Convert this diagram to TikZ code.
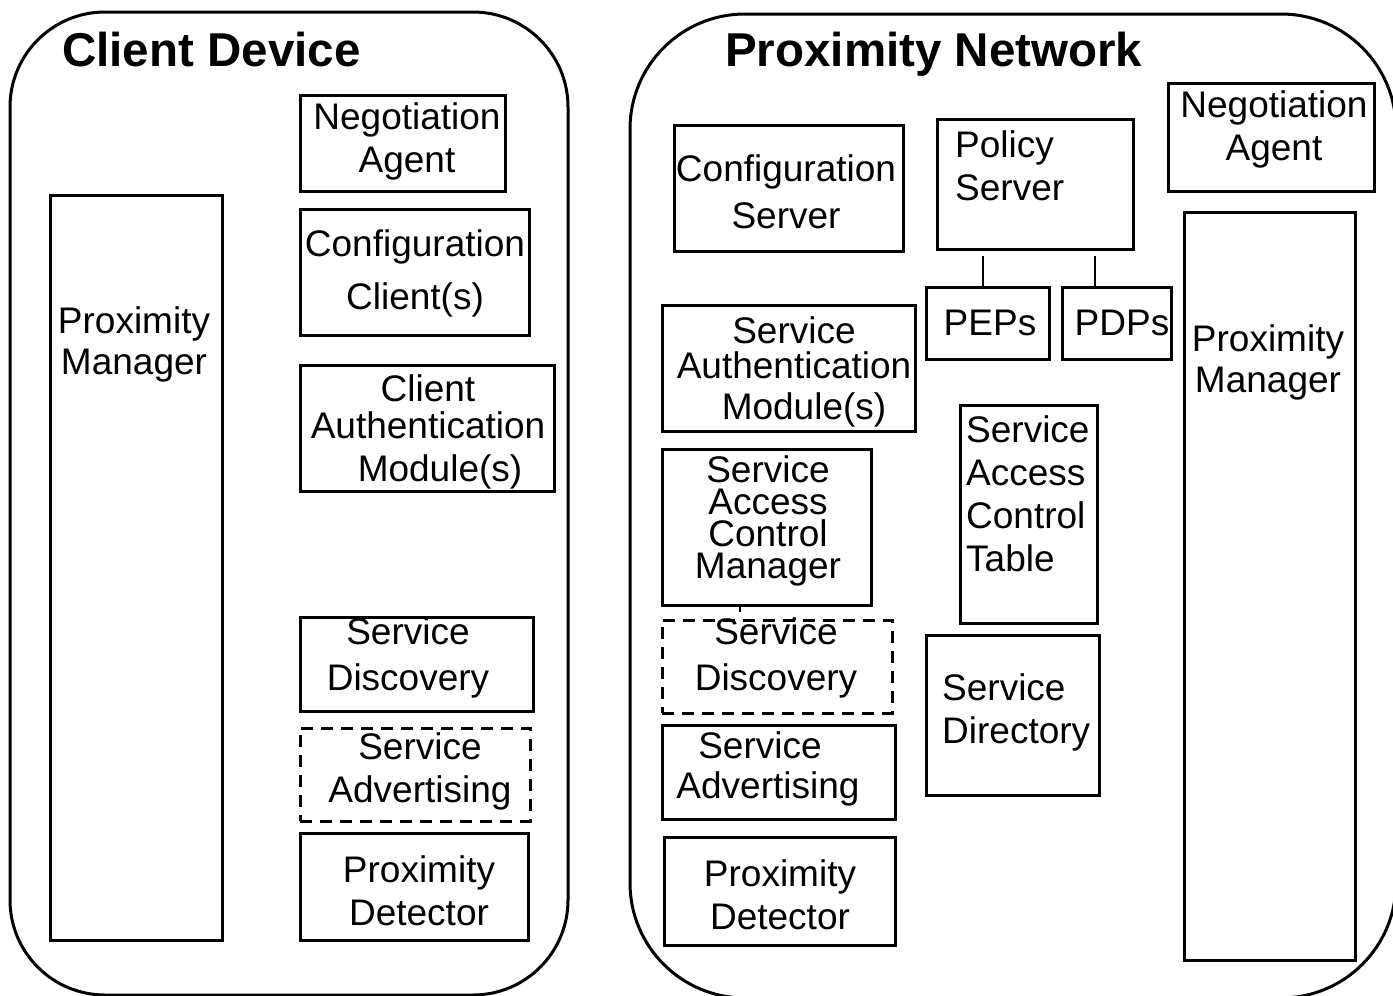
\documentclass[tikz,border=0pt]{standalone}
\usepackage{fontspec}
\setmainfont{Liberation Sans}
\usetikzlibrary{calc,positioning}

\tikzset{
  unit/.style={draw, line width=3pt, rectangle, inner sep=0pt},
  dashunit/.style={unit, dash pattern=on 12pt off 8pt},
  txt/.style={align=center, inner sep=0pt, font=\fontsize{37}{43}\selectfont},
  ltxt/.style={txt, align=left, anchor=west},
  heading/.style={anchor=base west, inner sep=0pt, font=\fontsize{47.5}{50}\selectfont\bfseries},
  shell/.style={line width=3pt},
  link/.style={line width=2pt}
}

\begin{document}
\begin{tikzpicture}[x=1pt, y=-1pt]
  \useasboundingbox (0,0) rectangle (1393,996);
  \clip (0,0) rectangle (1393,996);

  % client device
  \draw[shell, rounded corners=95pt] (10,12) rectangle (568,995);
  \node[heading] (cd-title) at (62,66) {Client Device};

  \node[unit, minimum width=172pt, minimum height=745pt] (cd-pm) at (136,567.5) {};
  \node[txt] (cd-pm-t) at (134,344) {Proximity\\[-2pt]Manager};

  \node[unit, minimum width=205pt, minimum height=96pt] (cd-na) at (402.5,143) {};
  \node[txt] (cd-na-t) at (407,141) {Negotiation\\Agent};

  \node[unit, minimum width=229pt, minimum height=126pt] (cd-cc) at (414.5,272) {};
  \node[txt] (cd-cc-t) at (415,273) {Configuration\\[10pt]Client(s)};

  \node[unit, minimum width=254pt, minimum height=126pt] (cd-cam) at (427,428) {};
  \node[txt] (cd-cam-t) at (428,432) {Client\\[-6pt]Authentication\\\hspace*{24pt}Module(s)};

  \node[unit, minimum width=233pt, minimum height=94pt] (cd-sd) at (416.5,664) {};
  \node[txt] (cd-sd-t) at (408,658) {Service\\[3pt]Discovery};

  \node[dashunit, minimum width=230pt, minimum height=93pt] (cd-sa) at (415,774.5) {};
  \node[txt] (cd-sa-t) at (420,771) {Service\\Advertising};

  \node[unit, minimum width=228pt, minimum height=107pt] (cd-prd) at (414,886.5) {};
  \node[txt] (cd-prd-t) at (419,891) {Proximity\\Detector};

  % proximity network
  \draw[shell, rounded corners=115pt] (630,14) rectangle (1396,998);
  \node[heading] (pn-title) at (725,66) {Proximity Network};

  \node[unit, minimum width=229pt, minimum height=126pt] (pn-cs) at (788.5,188) {};
  \node[txt] (pn-cs-t) at (786,192) {Configuration\\[4pt]Server};

  \node[unit, minimum width=196pt, minimum height=130pt] (pn-ps) at (1035,184) {};
  \node[ltxt] (pn-ps-t) at (955,166) {Policy\\Server};

  \node[unit, minimum width=206pt, minimum height=108pt] (pn-na) at (1271,137) {};
  \node[txt] (pn-na-t) at (1274,129) {Negotiation\\Agent};

  \node[unit, minimum width=123pt, minimum height=72pt] (pn-pep) at (987.5,323) {};
  \node[txt] (pn-pep-t) at (990,323) {PEPs};

  \node[unit, minimum width=109pt, minimum height=72pt] (pn-pdp) at (1116.5,323) {};
  \node[txt] (pn-pdp-t) at (1122,323) {PDPs};

  \coordinate (pep-top) at (983,256);
  \coordinate (pdp-top) at (1095,256);
  \draw[link] (pep-top) -- (pep-top |- pn-pep.north);
  \draw[link] (pdp-top) -- (pdp-top |- pn-pdp.north);

  \node[unit, minimum width=253pt, minimum height=126pt] (pn-sam) at (788.5,368) {};
  \node[txt] (pn-sam-t) at (794,372) {Service\\[-8pt]Authentication\\[-2pt]\hspace*{20pt}Module(s)};

  \node[unit, minimum width=209pt, minimum height=156pt] (pn-sacm) at (766.5,527) {};
  \node[txt] (pn-sacm-t) at (768,521) {Service\\[-11pt]Access\\[-11pt]Control\\[-11pt]Manager};

  \coordinate (sacm-tick) at (740,612);
  \draw[link] (sacm-tick |- pn-sacm.south) -- (sacm-tick);

  \node[dashunit, minimum width=230pt, minimum height=93pt] (pn-sd) at (777,666.5) {};
  \node[txt] (pn-sd-t) at (776,658) {Service\\[3pt]Discovery};

  \node[unit, minimum width=233pt, minimum height=94pt] (pn-sa) at (778.5,772) {};
  \node[txt] (pn-sa-t) at (768,769) {Service\hspace*{16pt}\\[-3pt]Advertising};

  \node[unit, minimum width=231pt, minimum height=108pt] (pn-prd) at (779.5,891) {};
  \node[txt] (pn-prd-t) at (780,895) {Proximity\\Detector};

  \node[unit, minimum width=137pt, minimum height=218pt] (pn-sact) at (1028.5,514) {};
  \node[ltxt] (pn-sact-t) at (966,494) {Service\\Access\\Control\\Table};

  \node[unit, minimum width=173pt, minimum height=160pt] (pn-sdir) at (1012.5,715) {};
  \node[ltxt] (pn-sdir-t) at (942,712) {Service\\Directory};

  \node[unit, minimum width=171pt, minimum height=748pt] (pn-pm) at (1269.5,586) {};
  \node[txt] (pn-pm-t) at (1268,362) {Proximity\\[-2pt]Manager};
\end{tikzpicture}
\end{document}
